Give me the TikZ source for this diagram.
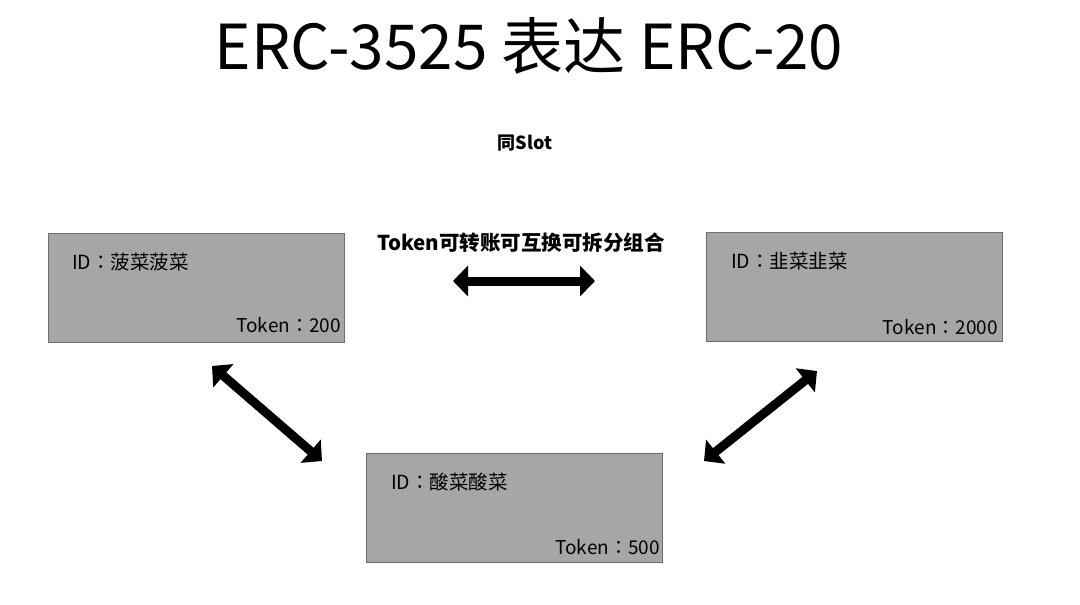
\documentclass[tikz,border=0pt]{standalone}
\usepackage{fontspec}
\setmainfont{Noto Sans CJK SC}
\newfontfamily\tcfont{Noto Sans CJK TC}
\usetikzlibrary{arrows.meta}
\definecolor{boxgray}{HTML}{A6A6A6}
\definecolor{edgegray}{HTML}{6E6E6E}
\tikzset{
  vegbox/.style={draw=edgegray, fill=boxgray, line width=1pt, minimum width=296pt, minimum height=109pt, inner sep=0pt},
  idtext/.style={font=\tcfont\fontsize{19.5}{19.5}\selectfont, anchor=west, inner sep=0pt},
  tokentext/.style={font=\tcfont\fontsize{19}{19}\selectfont, anchor=east, inner sep=0pt},
  swap/.style={line width=9pt, {Triangle[width=30pt,length=15pt]}-{Triangle[width=30pt,length=15pt]}},
}
\begin{document}
\begin{tikzpicture}[x=1pt,y=-1pt]
\useasboundingbox (0,0) rectangle (1080,605);
% title
\node (title) at (529,46) {\fontsize{62}{62}\selectfont ERC-3525 表达 ERC-20};
\node (slot) at (525,143) {\fontsize{18}{18}\selectfont\bfseries 同Slot};
% boxes
\node [vegbox] (spinach) at (196,287.5) {};
\node [idtext] (spinachid) at (72,262) {ID：菠菜菠菜};
\node [tokentext] (spinachtok) at (341,325) {Token：200};
\node [vegbox] (leek) at (854.5,286.5) {};
\node [idtext] (leekid) at (731,261) {ID：韭菜韭菜};
\node [tokentext] (leektok) at (998,327) {Token：2000};
\node [vegbox] (pickle) at (514.5,507.5) {};
\node [idtext] (pickleid) at (391,482) {ID：酸菜酸菜};
\node [tokentext] (pickletok) at (660,547) {Token：500};
% arrows
\node (ops) at (521,243) {\fontsize{20.5}{20.5}\selectfont\bfseries Token可转账可互换可拆分组合};
\coordinate (h1) at (453,281);
\coordinate (h2) at (595,281);
\coordinate (l1) at (212,366);
\coordinate (l2) at (322,461);
\coordinate (r1) at (817,371);
\coordinate (r2) at (704,461);
\draw [swap] (h1) -- (h2);
\draw [swap] (l1) -- (l2);
\draw [swap] (r1) -- (r2);
\end{tikzpicture}
\end{document}
